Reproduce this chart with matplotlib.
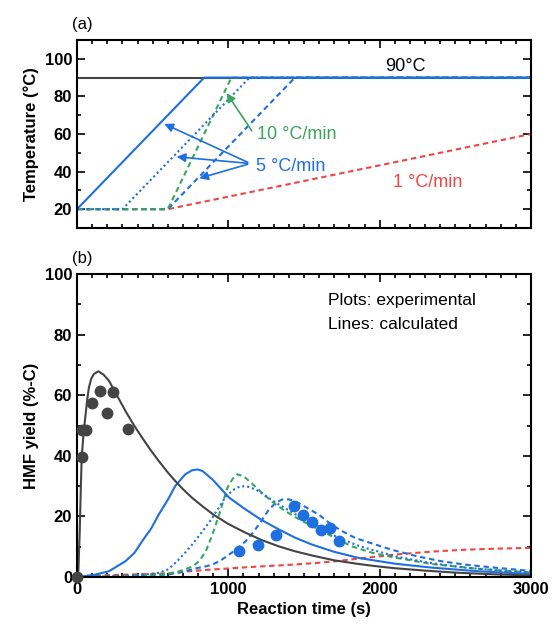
import matplotlib
matplotlib.use("Agg")
import matplotlib.pyplot as plt
from matplotlib.ticker import MultipleLocator

plt.rcParams['font.family'] = ['Liberation Sans', 'DejaVu Sans']

BLACK = '#444444'
BLUE = '#1f6fe0'
GREEN = '#3aa55c'
RED = '#ef4545'

# temperature programmes (a)
t_iso = [0, 3000]
T_iso = [90, 90]
t_5a = [0, 840, 3000]
T_5a = [20, 90, 90]
t_5b = [0, 300, 1140, 3000]
T_5b = [20, 20, 90, 90]
t_10 = [0, 600, 1020, 3000]
T_10 = [20, 20, 90, 90]
t_5c = [0, 600, 1440, 3000]
T_5c = [20, 20, 90, 90]
t_1 = [0, 600, 3000]
T_1 = [20, 20, 60]

# experimental HMF yield (b)
exp_t_iso = [0, 30, 35, 62, 100, 150, 200, 240, 340]
exp_y_iso = [0, 39.6, 48.5, 48.5, 57.3, 61.5, 54.0, 61.1, 48.8]
exp_t_ramp = [1072, 1195, 1314, 1434, 1493, 1553, 1614, 1674, 1733]
exp_y_ramp = [8.5, 10.4, 13.9, 23.4, 20.3, 18.3, 15.4, 16.2, 12.0]

# calculated HMF yield (b)
calc_t_iso = [0, 9, 18, 25, 31, 44, 57, 68, 79, 95, 112, 141, 175, 211, 260, 320, 375,
              430, 485, 540, 595, 649, 700, 759, 830, 901, 1000, 1114, 1220, 1334, 1440,
              1553, 1700, 1860, 1970, 2100, 2300, 2518, 2750, 3000]
calc_y_iso = [0, 2, 15, 29, 39.4, 48, 53.7, 58.8, 62.6, 65.6, 67.0, 67.9, 66.8, 64.8, 60.3,
              54.8, 50.2, 46.0, 42.0, 38.3, 34.8, 31.7, 29.0, 26.2, 23.3, 20.6, 17.5, 14.6,
              12.2, 10.1, 8.5, 7.1, 5.5, 4.3, 3.6, 2.9, 2.1, 1.4, 0.9, 0.5]
calc_t_5a = [0, 105, 211, 320, 380, 430, 490, 540, 600, 649, 715, 760, 796, 829, 895, 1005,
             1114, 1220, 1334, 1440, 1553, 1700, 1860, 2100, 2342, 2650, 3000]
calc_y_5a = [0, 0.6, 1.9, 5.2, 8.0, 11.8, 16.0, 20.6, 25.5, 30.0, 33.9, 35.2, 35.5, 35.0,
             32.2, 26.2, 22.3, 18.8, 15.7, 13.0, 10.7, 8.3, 6.3, 4.4, 3.1, 1.9, 1.0]
calc_t_5b = [0, 300, 450, 544, 600, 654, 710, 763, 820, 873, 939, 983, 1030, 1081, 1130,
             1180, 1246, 1334, 1440, 1553, 1684, 1838, 1904, 2123, 2350, 2562, 2800, 3000]
calc_y_5b = [0, 0.3, 0.8, 1.4, 2.5, 4.8, 7.8, 10.8, 14.5, 18.0, 23.0, 26.5, 28.7, 30.0,
             29.8, 28.9, 26.8, 23.9, 20.8, 17.9, 14.0, 10.7, 9.6, 6.6, 4.5, 3.1, 2.1, 1.5]
calc_t_10 = [0, 300, 544, 650, 708, 763, 807, 851, 895, 939, 994, 1030, 1059, 1100, 1136,
             1190, 1246, 1312, 1377, 1470, 1553, 1690, 1816, 1950, 2079, 2342, 2650, 3000]
calc_y_10 = [0, 0.3, 0.8, 1.5, 2.4, 3.5, 5.2, 8.5, 14.0, 20.6, 29.5, 32.5, 33.9, 33.3, 31.7,
             29.3, 26.7, 24.0, 21.7, 19.0, 16.8, 13.3, 10.1, 8.0, 6.6, 4.3, 2.7, 1.5]
calc_t_5c = [0, 300, 600, 700, 780, 851, 895, 950, 1005, 1060, 1114, 1160, 1202, 1235, 1268,
             1310, 1355, 1400, 1443, 1531, 1597, 1684, 1750, 1838, 1904, 2079, 2250, 2408,
             2562, 2800, 3000]
calc_y_5c = [0, 0.3, 0.8, 1.7, 2.8, 3.5, 4.1, 5.5, 7.4, 9.4, 11.8, 14.5, 17.3, 19.8, 22.3,
             24.3, 25.6, 25.6, 25.0, 22.5, 20.6, 17.2, 15.2, 12.9, 11.8, 9.0, 6.8, 5.2, 4.1,
             2.9, 2.0]
calc_t_1 = [0, 600, 741, 900, 1180, 1400, 1597, 1728, 1900, 2123, 2350, 2562, 2800, 3000]
calc_y_1 = [0.3, 1.2, 1.9, 2.5, 3.4, 4.0, 4.7, 5.3, 6.3, 7.5, 8.4, 9.0, 9.4, 9.6]

dash = (0, (2.6, 1.8))
dot = (0, (1, 1.4))

fig = plt.figure(figsize=(5.52, 6.34), dpi=100)
ax1 = fig.add_axes([0.1395, 0.6404, 0.8225, 0.2965])
ax2 = fig.add_axes([0.1395, 0.0899, 0.8225, 0.4779])

# (a) temperature
ax1.plot(t_iso, T_iso, color=BLACK, lw=1.5)
ax1.plot(t_1, T_1, color=RED, lw=1.5, ls=dash)
ax1.plot(t_5c, T_5c, color=BLUE, lw=1.5, ls=dash)
ax1.plot(t_10, T_10, color=GREEN, lw=1.5, ls=dash)
ax1.plot(t_5b, T_5b, color=BLUE, lw=1.5, ls=dot)
ax1.plot(t_5a, T_5a, color=BLUE, lw=1.5)

ax1.text(2170, 96, '90°C', fontsize=13, ha='center', va='center', color='black')
ax1.text(1190, 59.5, '10 °C/min', fontsize=13, ha='left', va='center', color=GREEN)
ax1.annotate('', xy=(978, 83), xytext=(1165, 60.5),
             arrowprops=dict(arrowstyle='-|>', color=GREEN, lw=1.2, mutation_scale=13))
ax1.text(1180, 42.5, '5 °C/min', fontsize=13, ha='left', va='center', color=BLUE)
for xy in [(560, 66), (640, 48), (790, 36)]:
    ax1.annotate('', xy=xy, xytext=(1145, 44.3),
                 arrowprops=dict(arrowstyle='-|>', color=BLUE, lw=1.2, mutation_scale=13))
ax1.text(2320, 34, '1 °C/min', fontsize=13, ha='center', va='center', color=RED)

ax1.set_xlim(0, 3000)
ax1.set_ylim(10, 110)
ax1.set_yticks([20, 40, 60, 80, 100])
ax1.yaxis.set_minor_locator(MultipleLocator(10))
ax1.set_xticks([0, 1000, 2000, 3000])
ax1.xaxis.set_minor_locator(MultipleLocator(100))
ax1.set_xticklabels([])
ax1.set_ylabel('Temperature (°C)', fontsize=12, fontweight='bold')
ax1.text(-0.01, 1.04, '(a)', transform=ax1.transAxes, fontsize=12, ha='left', va='bottom')

# (b) HMF yield
ax2.plot(calc_t_1, calc_y_1, color=RED, lw=1.5, ls=dash)
ax2.plot(calc_t_5c, calc_y_5c, color=BLUE, lw=1.5, ls=dash)
ax2.plot(calc_t_10, calc_y_10, color=GREEN, lw=1.5, ls=dash)
ax2.plot(calc_t_5b, calc_y_5b, color=BLUE, lw=1.5, ls=dot)
ax2.plot(calc_t_5a, calc_y_5a, color=BLUE, lw=1.5)
ax2.plot(calc_t_iso, calc_y_iso, color=BLACK, lw=1.5)
ax2.plot(exp_t_iso, exp_y_iso, 'o', color=BLACK, ms=7.5, clip_on=False, zorder=5)
ax2.plot(exp_t_ramp, exp_y_ramp, 'o', color=BLUE, ms=7.5, zorder=5)

ax2.text(1660, 91.3, 'Plots: experimental', fontsize=12.5, ha='left', va='center')
ax2.text(1660, 83.5, 'Lines: calculated', fontsize=12.5, ha='left', va='center')

ax2.set_xlim(0, 3000)
ax2.set_ylim(0, 100)
ax2.set_yticks([0, 20, 40, 60, 80, 100])
ax2.yaxis.set_minor_locator(MultipleLocator(10))
ax2.set_xticks([0, 1000, 2000, 3000])
ax2.xaxis.set_minor_locator(MultipleLocator(100))
ax2.set_xlabel('Reaction time (s)', fontsize=12, fontweight='bold')
ax2.set_ylabel('HMF yield (%-C)', fontsize=12, fontweight='bold')
ax2.text(-0.01, 1.025, '(b)', transform=ax2.transAxes, fontsize=12, ha='left', va='bottom')

for ax in (ax1, ax2):
    ax.tick_params(which='both', direction='in', top=True, right=True, width=1.2)
    ax.tick_params(which='major', length=6, labelsize=12)
    ax.tick_params(which='minor', length=3)
    for lab in ax.get_xticklabels() + ax.get_yticklabels():
        lab.set_fontweight('bold')
    for s in ax.spines.values():
        s.set_linewidth(1.5)

fig.savefig('out.png', dpi=100)
